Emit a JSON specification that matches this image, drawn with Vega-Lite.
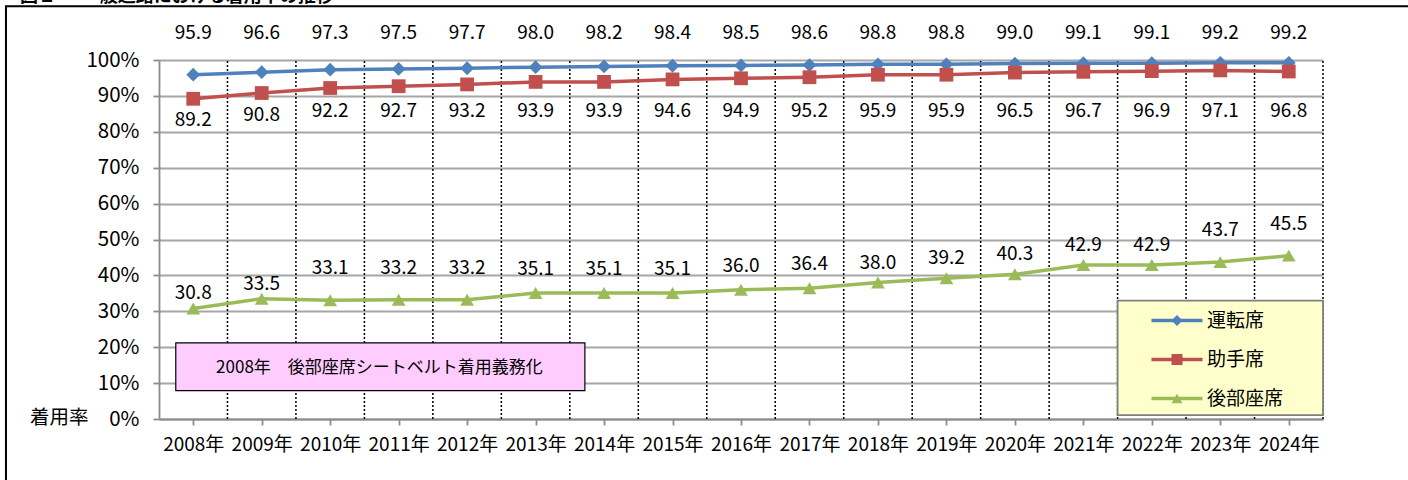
{
  "$schema": "https://vega.github.io/schema/vega-lite/v6.json",
  "width": 1164,
  "height": 359,
  "autosize": {"type": "none"},
  "padding": {"left": 159, "top": 60, "right": 85, "bottom": 61},
  "background": "white",
  "config": {
    "view": {"stroke": null},
    "font": "Noto Sans CJK JP",
    "axis": {"labelFont": "Noto Sans CJK JP", "labelColor": "#000"}
  },
  "datasets": {
    "rates": [
      {"year": "2008年", "運転席": 95.9, "助手席": 89.2, "後部座席": 30.8},
      {"year": "2009年", "運転席": 96.6, "助手席": 90.8, "後部座席": 33.5},
      {"year": "2010年", "運転席": 97.3, "助手席": 92.2, "後部座席": 33.1},
      {"year": "2011年", "運転席": 97.5, "助手席": 92.7, "後部座席": 33.2},
      {"year": "2012年", "運転席": 97.7, "助手席": 93.2, "後部座席": 33.2},
      {"year": "2013年", "運転席": 98.0, "助手席": 93.9, "後部座席": 35.1},
      {"year": "2014年", "運転席": 98.2, "助手席": 93.9, "後部座席": 35.1},
      {"year": "2015年", "運転席": 98.4, "助手席": 94.6, "後部座席": 35.1},
      {"year": "2016年", "運転席": 98.5, "助手席": 94.9, "後部座席": 36.0},
      {"year": "2017年", "運転席": 98.6, "助手席": 95.2, "後部座席": 36.4},
      {"year": "2018年", "運転席": 98.8, "助手席": 95.9, "後部座席": 38.0},
      {"year": "2019年", "運転席": 98.8, "助手席": 95.9, "後部座席": 39.2},
      {"year": "2020年", "運転席": 99.0, "助手席": 96.5, "後部座席": 40.3},
      {"year": "2021年", "運転席": 99.1, "助手席": 96.7, "後部座席": 42.9},
      {"year": "2022年", "運転席": 99.1, "助手席": 96.9, "後部座席": 42.9},
      {"year": "2023年", "運転席": 99.2, "助手席": 97.1, "後部座席": 43.7},
      {"year": "2024年", "運転席": 99.2, "助手席": 96.8, "後部座席": 45.5}
    ],
    "bounds": [
      {"b": 1}, {"b": 2}, {"b": 3}, {"b": 4}, {"b": 5}, {"b": 6}, {"b": 7}, {"b": 8}, {"b": 9},
      {"b": 10}, {"b": 11}, {"b": 12}, {"b": 13}, {"b": 14}, {"b": 15}, {"b": 16}, {"b": 17}
    ]
  },
  "layer": [
    {
      "layer": [
        {
          "data": {"name": "bounds"},
          "mark": {"type": "rule", "color": "#000", "strokeWidth": 1.5, "strokeDash": [2, 2]},
          "encoding": {
            "x": {"field": "b", "type": "quantitative", "scale": {"domain": [0, 17], "nice": false, "zero": false}, "axis": null},
            "y": {"datum": 0, "type": "quantitative", "scale": {"domain": [0, 100], "nice": false},
              "axis": {"values": [0, 10, 20, 30, 40, 50, 60, 70, 80, 90, 100], "tickCount": 20, "labelExpr": "datum.value + '%'", "title": null,
                "labelOverlap": false, "grid": true, "gridColor": "#a6a6a6", "gridWidth": 1.8, "domainColor": "#8c8c8c", "domainWidth": 1.8,
                "tickColor": "#8c8c8c", "tickWidth": 1.8, "tickSize": 6, "labelFontSize": 20.5, "labelPadding": 14}},
            "y2": {"datum": 100}
          }
        },
        {
          "data": {"values": [{}]},
          "mark": {"type": "rect", "fill": "#ffccff", "stroke": "#000", "strokeWidth": 1.2},
          "encoding": {
            "x": {"datum": 0.245, "type": "quantitative", "scale": {"domain": [0, 17], "nice": false, "zero": false}},
            "x2": {"datum": 6.22},
            "y": {"datum": 21.2, "type": "quantitative", "scale": {"domain": [0, 100], "nice": false}},
            "y2": {"datum": 7.9}
          }
        },
        {
          "data": {"values": [{}]},
          "mark": {"type": "text", "fontSize": 17, "align": "center", "baseline": "middle", "color": "#000"},
          "encoding": {
            "x": {"datum": 3.22, "type": "quantitative", "scale": {"domain": [0, 17], "nice": false, "zero": false}},
            "y": {"datum": 14.2, "type": "quantitative", "scale": {"domain": [0, 100], "nice": false}},
            "text": {"value": "2008年　後部座席シートベルト着用義務化"}
          }
        },
        {
          "data": {"values": [{}]},
          "mark": {"type": "rect", "fill": "#ffffcc", "stroke": "#7f7f7f", "strokeWidth": 1.8},
          "encoding": {
            "x": {"datum": 14.0, "type": "quantitative", "scale": {"domain": [0, 17], "nice": false, "zero": false}},
            "x2": {"datum": 17.0},
            "y": {"datum": 32.95, "type": "quantitative", "scale": {"domain": [0, 100], "nice": false}},
            "y2": {"datum": 1.1}
          }
        },
        {
          "data": {"values": [{}]},
          "mark": {"type": "text", "fontSize": 19.5, "align": "right", "baseline": "middle", "color": "#000"},
          "encoding": {
            "x": {"datum": -1.03, "type": "quantitative", "scale": {"domain": [0, 17], "nice": false, "zero": false}},
            "y": {"datum": 0.3, "type": "quantitative", "scale": {"domain": [0, 100], "nice": false}},
            "text": {"value": "着用率"}
          }
        },
        {
          "data": {"values": [{}]},
          "mark": {"type": "text", "fontSize": 18, "fontWeight": "bold", "align": "left", "baseline": "alphabetic", "color": "#000"},
          "encoding": {
            "x": {"datum": -2.03, "type": "quantitative", "scale": {"domain": [0, 17], "nice": false, "zero": false}},
            "y": {"datum": 116.2, "type": "quantitative", "scale": {"domain": [0, 100], "nice": false}},
            "text": {"value": "図２"}
          }
        },
        {
          "data": {"values": [{}]},
          "mark": {"type": "text", "fontSize": 18, "fontWeight": "bold", "align": "left", "baseline": "alphabetic", "color": "#000"},
          "encoding": {
            "x": {"datum": -1.13, "type": "quantitative", "scale": {"domain": [0, 17], "nice": false, "zero": false}},
            "y": {"datum": 116.2, "type": "quantitative", "scale": {"domain": [0, 100], "nice": false}},
            "text": {"value": "一般道路における着用率の推移"}
          }
        },
        {
          "data": {"values": [{}]},
          "mark": {"type": "rect", "fill": null, "fillOpacity": 0, "stroke": "#000", "strokeWidth": 2},
          "encoding": {
            "x": {"datum": -2.235, "type": "quantitative", "scale": {"domain": [0, 17], "nice": false, "zero": false}},
            "x2": {"datum": 20},
            "y": {"datum": 115.0, "type": "quantitative", "scale": {"domain": [0, 100], "nice": false}},
            "y2": {"datum": -30}
          }
        }
      ]
    },
    {
      "data": {"name": "rates"},
      "transform": [{"fold": ["運転席", "助手席", "後部座席"], "as": ["seat", "value"]}],
      "encoding": {
        "x": {"field": "year", "type": "nominal", "scale": {"paddingInner": 0, "paddingOuter": 0},
          "axis": {"orient": "bottom", "title": null, "labelAngle": 0, "labelFontSize": 19, "labelPadding": 10, "bandPosition": 0,
            "labelOverlap": false, "domainColor": "#8c8c8c", "domainWidth": 1.8, "tickColor": "#8c8c8c", "tickWidth": 1.8, "tickSize": 6, "grid": false}},
        "y": {"field": "value", "type": "quantitative", "scale": {"domain": [0, 100], "nice": false},
          "axis": {"values": [0, 10, 20, 30, 40, 50, 60, 70, 80, 90, 100], "tickCount": 20, "labelExpr": "datum.value + '%'", "title": null,
            "labelOverlap": false, "grid": true, "gridColor": "#a6a6a6", "gridWidth": 1.8, "domainColor": "#8c8c8c", "domainWidth": 1.8,
            "tickColor": "#8c8c8c", "tickWidth": 1.8, "tickSize": 6, "labelFontSize": 20.5, "labelPadding": 14}}
      },
      "layer": [
        {
          "mark": {"type": "line", "strokeWidth": 3.5},
          "encoding": {
            "stroke": {"field": "seat", "type": "nominal",
              "scale": {"domain": ["後部座席", "運転席", "助手席"], "range": ["#9bbb59", "#4f81bd", "#c0504d"]},
              "legend": {"orient": "none", "legendX": 1008.5, "legendY": 251, "title": null, "labelFontSize": 19,
                "labelOffset": 20.5, "symbolSize": 121, "rowPadding": 19, "padding": 0,
                "values": ["運転席", "助手席", "後部座席"],
                "symbolType": "M-4.64,0H4.64", "symbolStrokeWidth": 3.5, "labelOpacity": 0,
                "labelFont": "Noto Sans CJK JP"}
            }
          }
        },
        {
          "mark": {"type": "point", "filled": true, "opacity": 1, "size": 190},
          "encoding": {
            "color": {"field": "seat", "type": "nominal",
              "scale": {"domain": ["運転席", "助手席", "後部座席"], "range": ["#4f81bd", "#c0504d", "#9bbb59"]},
              "legend": {"orient": "none", "legendX": 1008.5, "legendY": 251, "title": null, "labelFontSize": 19,
                "labelOffset": 20.5, "symbolSize": 121, "rowPadding": 19, "padding": 0, "symbolStrokeWidth": 0,
                "labelColor": "#000", "labelFont": "Noto Sans CJK JP"}},
            "shape": {"field": "seat", "type": "nominal",
              "scale": {"domain": ["運転席", "助手席", "後部座席"], "range": ["diamond", "square", "triangle-up"]}, "legend": null}
          }
        },
        {
          "transform": [{"filter": "datum.seat === '運転席'"}],
          "mark": {"type": "text", "fontSize": 19, "baseline": "middle", "color": "#000"},
          "encoding": {"y": {"datum": 107.6}, "text": {"field": "value", "type": "quantitative", "format": ".1f"}}
        },
        {
          "transform": [{"filter": "datum.seat === '助手席' && datum.year === '2008年'"}],
          "mark": {"type": "text", "fontSize": 19, "baseline": "middle", "color": "#000"},
          "encoding": {"y": {"datum": 83.3}, "text": {"field": "value", "type": "quantitative", "format": ".1f"}}
        },
        {
          "transform": [{"filter": "datum.seat === '助手席' && datum.year === '2009年'"}],
          "mark": {"type": "text", "fontSize": 19, "baseline": "middle", "color": "#000"},
          "encoding": {"y": {"datum": 84.8}, "text": {"field": "value", "type": "quantitative", "format": ".1f"}}
        },
        {
          "transform": [{"filter": "datum.seat === '助手席' && datum.year !== '2008年' && datum.year !== '2009年'"}],
          "mark": {"type": "text", "fontSize": 19, "baseline": "middle", "color": "#000"},
          "encoding": {"y": {"datum": 85.9}, "text": {"field": "value", "type": "quantitative", "format": ".1f"}}
        },
        {
          "transform": [{"filter": "datum.seat === '後部座席' && (datum.year === '2008年' || datum.year === '2009年')"}],
          "mark": {"type": "text", "fontSize": 19, "baseline": "middle", "dy": -15, "color": "#000"},
          "encoding": {"text": {"field": "value", "type": "quantitative", "format": ".1f"}}
        },
        {
          "transform": [{"filter": "datum.seat === '後部座席' && indexof(['2010年','2011年','2012年','2023年','2024年'], datum.year) >= 0"}],
          "mark": {"type": "text", "fontSize": 19, "baseline": "middle", "dy": -32, "color": "#000"},
          "encoding": {"text": {"field": "value", "type": "quantitative", "format": ".1f"}}
        },
        {
          "transform": [{"filter": "datum.seat === '後部座席' && indexof(['2013年','2014年','2015年','2016年','2017年'], datum.year) >= 0"}],
          "mark": {"type": "text", "fontSize": 19, "baseline": "middle", "dy": -24, "color": "#000"},
          "encoding": {"text": {"field": "value", "type": "quantitative", "format": ".1f"}}
        },
        {
          "transform": [{"filter": "datum.seat === '後部座席' && indexof(['2018年','2019年','2020年','2021年','2022年'], datum.year) >= 0"}],
          "mark": {"type": "text", "fontSize": 19, "baseline": "middle", "dy": -20, "color": "#000"},
          "encoding": {"text": {"field": "value", "type": "quantitative", "format": ".1f"}}
        }
      ]
    }
  ],
  "resolve": {"scale": {"x": "independent"}, "axis": {"x": "independent"}}
}
